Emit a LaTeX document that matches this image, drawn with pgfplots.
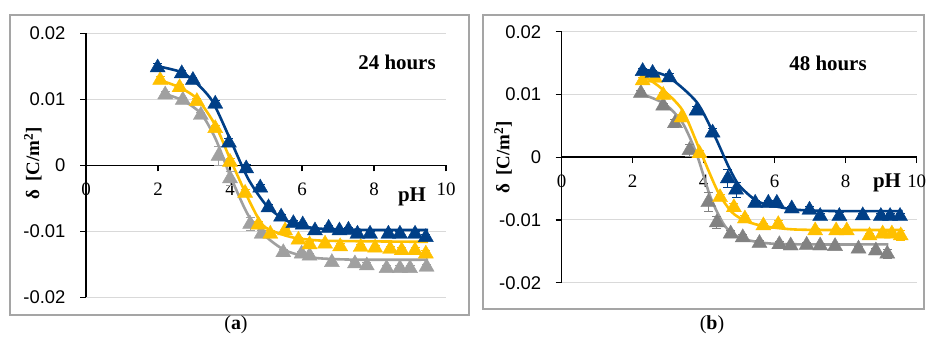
\documentclass[border=0pt]{standalone}
\usepackage{fontspec}
\setmainfont{Liberation Serif}
\newfontfamily\arial{Liberation Sans}
\usepackage{pgfplots}
\pgfplotsset{compat=1.18}
\definecolor{cblue}{RGB}{0,63,135}
\definecolor{cyel}{RGB}{255,192,0}
\definecolor{cgray}{RGB}{160,160,160}
\definecolor{cgrayb}{RGB}{130,130,130}
\definecolor{frame}{RGB}{165,165,165}
\definecolor{gridc}{RGB}{217,217,217}
\pgfplotsset{
 panel/.style={
  scale only axis, clip=false,
  xmin=0,xmax=10,ymin=-0.02,ymax=0.02,
  scaled y ticks=false, scaled x ticks=false,
  axis x line=middle, axis y line=left,
  axis line style={-, black, line width=1.5bp},
  xtick={0,2,4,6,8,10}, xticklabels={0,2,4,6,8,10},
  ytick={-0.02,-0.01,0,0.01,0.02}, yticklabels={-0.02,-0.01,0,0.01,0.02},
  hide obscured x ticks=false, hide obscured y ticks=false,
  tick align=outside, major tick length=6bp,
  tick style={black,line width=1.2bp},
  ymajorgrids, grid style={gridc, line width=1bp},
  xticklabel style={font=\fontsize{19}{19}\selectfont, yshift=-8bp},
  yticklabel style={font=\arial\fontsize{18.5}{18.5}\selectfont, xshift=-11bp},
 },
 fit/.style={line width=2.6bp, smooth, tension=0.45, no marks},
 pts/.style={only marks, mark=triangle*, mark size=8.7bp,
   error bars/y dir=both, error bars/y explicit,
   error bars/error bar style={line width=1bp},
   error bars/error mark options={rotate=90, mark size=4.5bp, line width=1bp}},
}
\begin{document}
\begin{tikzpicture}[x=1bp,y=1bp]
\useasboundingbox (0,0) rectangle (926,344);
\draw[frame, line width=1.5bp] (10,29) rectangle (469,329);
\draw[frame, line width=1.5bp] (483,35) rectangle (924,329);
% ---------- panel (a)
\begin{axis}[panel, at={(86bp,46.7bp)}, anchor=south west, width=360bp, height=264bp]
\addplot[fit, cgray] coordinates {(2.2,0.0108) (2.7,0.0098) (3.2,0.0078) (3.6,0.0040) (4.0,-0.0015) (4.5,-0.0075) (5.0,-0.0108) (5.5,-0.0128) (6.0,-0.0137) (6.5,-0.0141) (7.5,-0.0143) (9.5,-0.0143)};
\addplot[fit, cyel] coordinates {(2.0,0.0130) (2.6,0.0118) (3.1,0.0100) (3.6,0.0060) (4.0,0.0010) (4.5,-0.0050) (4.9,-0.0090) (5.3,-0.0102) (5.8,-0.0110) (6.5,-0.0114) (7.5,-0.0115) (9.5,-0.0116)};
\addplot[fit, cblue] coordinates {(2.0,0.0150) (2.6,0.0142) (3.0,0.0128) (3.5,0.0098) (4.0,0.0040) (4.5,-0.0020) (5.0,-0.0060) (5.5,-0.0082) (6.0,-0.0092) (6.5,-0.0096) (7.0,-0.0097) (8.0,-0.0098) (9.5,-0.0098)};
\addplot[pts, cgray] coordinates {(2.20,0.0107) +- (0,0.0005) (2.69,0.0099) +- (0,0.0004) (3.19,0.0076) +- (0,0.0004) (3.68,0.0014) +- (0,0.0015) (4.00,-0.0020) +- (0,0.0010) (4.56,-0.0089) +- (0,0.0010) (4.88,-0.0104) +- (0,0.0005) (5.48,-0.0132) +- (0,0.0004) (5.99,-0.0134) +- (0,0.0004) (6.21,-0.0137) +- (0,0.0004) (6.83,-0.0147) +- (0,0.0004) (7.47,-0.0149) +- (0,0.0004) (7.80,-0.0152) +- (0,0.0004) (8.35,-0.0156) +- (0,0.0004) (8.72,-0.0156) +- (0,0.0004) (9.00,-0.0156) +- (0,0.0004) (9.46,-0.0154) +- (0,0.0004)};
\addplot[pts, cyel] coordinates {(2.06,0.0129) +- (0,0.0005) (2.60,0.0118) +- (0,0.0004) (3.08,0.0097) +- (0,0.0004) (3.59,0.0056) +- (0,0.0005) (4.00,0.0005) +- (0,0.0005) (4.42,-0.0042) +- (0,0.0005) (4.79,-0.0090) +- (0,0.0005) (5.12,-0.0104) +- (0,0.0005) (5.53,-0.0099) +- (0,0.0004) (5.90,-0.0113) +- (0,0.0004) (6.21,-0.0120) +- (0,0.0004) (6.64,-0.0119) +- (0,0.0004) (7.06,-0.0123) +- (0,0.0004) (7.63,-0.0124) +- (0,0.0004) (8.03,-0.0125) +- (0,0.0004) (8.45,-0.0127) +- (0,0.0004) (8.77,-0.0129) +- (0,0.0004) (9.14,-0.0129) +- (0,0.0004) (9.44,-0.0134) +- (0,0.0005)};
\addplot[pts, cblue] coordinates {(1.99,0.0148) +- (0,0.0006) (2.66,0.0139) +- (0,0.0004) (2.97,0.0129) +- (0,0.0004) (3.59,0.0093) +- (0,0.0005) (3.97,0.0034) +- (0,0.0006) (4.45,-0.0005) +- (0,0.0006) (4.84,-0.0034) +- (0,0.0005) (5.07,-0.0064) +- (0,0.0005) (5.42,-0.0078) +- (0,0.0004) (5.76,-0.0088) +- (0,0.0004) (6.02,-0.0090) +- (0,0.0004) (6.36,-0.0099) +- (0,0.0004) (6.74,-0.0095) +- (0,0.0004) (7.04,-0.0099) +- (0,0.0004) (7.29,-0.0098) +- (0,0.0004) (7.54,-0.0104) +- (0,0.0004) (7.89,-0.0104) +- (0,0.0004) (8.40,-0.0104) +- (0,0.0004) (8.72,-0.0104) +- (0,0.0004) (9.14,-0.0104) +- (0,0.0004) (9.44,-0.0109) +- (0,0.0004)};
\end{axis}
% ---------- panel (b)
\begin{axis}[panel, at={(561.7bp,61.3bp)}, anchor=south west, width=355bp, height=251bp]
\addplot[fit, cgrayb!80] coordinates {(2.2,0.0102) (2.9,0.0085) (3.4,0.0055) (3.8,0.0005) (4.2,-0.0065) (4.6,-0.0110) (5.0,-0.0128) (5.5,-0.0135) (6.0,-0.0138) (7.0,-0.0139) (9.2,-0.0139)};
\addplot[fit, cyel] coordinates {(2.3,0.0130) (2.8,0.0110) (3.4,0.0075) (3.9,0.0010) (4.4,-0.0055) (4.8,-0.0088) (5.2,-0.0102) (5.7,-0.0110) (6.5,-0.0115) (7.5,-0.0116) (9.6,-0.0116)};
\addplot[fit, cblue] coordinates {(2.3,0.0140) (3.0,0.0128) (3.8,0.0088) (4.3,0.0035) (4.7,-0.0015) (5.0,-0.0045) (5.5,-0.0070) (6.0,-0.0078) (6.5,-0.0083) (7.0,-0.0085) (8.0,-0.0086) (9.6,-0.0086)};
\addplot[pts, cgrayb] coordinates {(2.23,0.0102) +- (0,0.0005) (2.86,0.0082) +- (0,0.0004) (3.19,0.0054) +- (0,0.0006) (3.60,0.0011) +- (0,0.0010) (4.13,-0.0072) +- (0,0.0015) (4.37,-0.0104) +- (0,0.0010) (4.76,-0.0122) +- (0,0.0005) (5.10,-0.0128) +- (0,0.0005) (5.57,-0.0137) +- (0,0.0004) (6.13,-0.0139) +- (0,0.0004) (6.45,-0.0141) +- (0,0.0004) (6.90,-0.0140) +- (0,0.0004) (7.28,-0.0141) +- (0,0.0004) (7.70,-0.0142) +- (0,0.0004) (8.36,-0.0146) +- (0,0.0004) (8.85,-0.0149) +- (0,0.0004) (9.17,-0.0154) +- (0,0.0007)};
\addplot[pts, cyel] coordinates {(2.28,0.0122) +- (0,0.0005) (2.63,0.0126) +- (0,0.0004) (2.86,0.0099) +- (0,0.0004) (3.38,0.0063) +- (0,0.0005) (3.88,0.0006) +- (0,0.0005) (4.46,-0.0064) +- (0,0.0005) (4.85,-0.0080) +- (0,0.0006) (5.16,-0.0098) +- (0,0.0005) (5.68,-0.0109) +- (0,0.0004) (6.10,-0.0107) +- (0,0.0006) (7.14,-0.0117) +- (0,0.0004) (7.73,-0.0117) +- (0,0.0004) (8.03,-0.0117) +- (0,0.0004) (8.67,-0.0125) +- (0,0.0004) (9.04,-0.0122) +- (0,0.0004) (9.30,-0.0122) +- (0,0.0004) (9.55,-0.0125) +- (0,0.0008)};
\addplot[pts, cblue] coordinates {(2.28,0.0137) +- (0,0.0005) (2.56,0.0134) +- (0,0.0004) (3.03,0.0127) +- (0,0.0006) (3.80,0.0074) +- (0,0.0006) (4.25,0.0039) +- (0,0.0006) (4.68,-0.0034) +- (0,0.0015) (4.91,-0.0052) +- (0,0.0012) (5.45,-0.0073) +- (0,0.0004) (5.82,-0.0073) +- (0,0.0004) (6.06,-0.0073) +- (0,0.0004) (6.48,-0.0082) +- (0,0.0004) (6.98,-0.0084) +- (0,0.0006) (7.28,-0.0094) +- (0,0.0004) (7.82,-0.0094) +- (0,0.0006) (8.48,-0.0093) +- (0,0.0004) (8.99,-0.0094) +- (0,0.0004) (9.25,-0.0094) +- (0,0.0004) (9.53,-0.0094) +- (0,0.0004)};
\end{axis}
% ---------- texts
\node[font=\bfseries\fontsize{21}{21}\selectfont] at (397,282) {24 hours};
\node[font=\bfseries\fontsize{21}{21}\selectfont] at (828,281) {48 hours};
\node[font=\bfseries\fontsize{21}{21}\selectfont] at (412,147) {pH};
\node[font=\bfseries\fontsize{21}{21}\selectfont] at (887,161) {pH};
\node[font=\bfseries\fontsize{19}{19}\selectfont, rotate=90] at (33,181) {δ\, [C/m\textsuperscript{2}]};
\node[font=\bfseries\fontsize{19}{19}\selectfont, rotate=90] at (503,187) {δ\, [C/m\textsuperscript{2}]};
\node[font=\fontsize{20}{20}\selectfont] at (236,19) {(\textbf{a})};
\node[font=\fontsize{20}{20}\selectfont] at (712,19) {(\textbf{b})};
\end{tikzpicture}
\end{document}
